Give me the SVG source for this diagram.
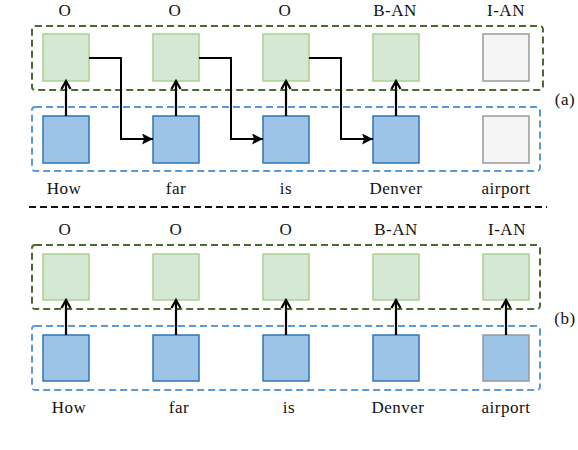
<svg xmlns="http://www.w3.org/2000/svg" width="578" height="450" viewBox="0 0 578 450">
<defs>
<marker id="fill" viewBox="0 0 10 10" refX="10" refY="5" markerWidth="11" markerHeight="11" markerUnits="userSpaceOnUse" orient="auto">
<path d="M0,0 L10,5 L0,10 L2,5 Z" fill="#000"/>
</marker>
<marker id="open" viewBox="0 0 12 12" refX="10" refY="6" markerWidth="12" markerHeight="12" markerUnits="userSpaceOnUse" orient="auto">
<path d="M2,1.5 L10,6 L2,10.5" fill="none" stroke="#000" stroke-width="2.2"/>
</marker>
</defs>
<style>
text{font-family:"Liberation Serif","Times New Roman",serif;font-size:17px;letter-spacing:0.5px;fill:#111;text-anchor:middle}
.g{fill:#d5e8d4;stroke:#a9d18e;stroke-width:1.5}
.b{fill:#9dc3e6;stroke:#2e75b6;stroke-width:1.5}
.w{fill:#f5f5f5;stroke:#999;stroke-width:1.5}
.bw{fill:#9dc3e6;stroke:#999;stroke-width:1.5}
.gd{fill:none;stroke:#4b6a2f;stroke-width:2;stroke-dasharray:7,4}
.bd{fill:none;stroke:#5b9bd5;stroke-width:2;stroke-dasharray:7,4}
.sep{fill:none;stroke:#111;stroke-width:2;stroke-dasharray:7,4}
.up{fill:none;stroke:#000;stroke-width:2.2;marker-end:url(#open)}
.rt{fill:none;stroke:#000;stroke-width:2;marker-end:url(#fill)}
</style>
<g id="frames">
<rect class="gd" x="32" y="26" width="511" height="64" rx="3"/>
<rect class="bd" x="32" y="107" width="508" height="64" rx="3"/>
<line class="sep" x1="29" y1="207" x2="547" y2="207"/>
<rect class="gd" x="32" y="245" width="508" height="64" rx="3"/>
<rect class="bd" x="32" y="326" width="508" height="64" rx="3"/>
</g>
<g id="panel-a">
<g id="a-out-1"><rect class="g" x="43" y="34" width="46" height="47"/><text x="65" y="16">O</text></g>
<g id="a-out-2"><rect class="g" x="153" y="34" width="46" height="47"/><text x="175" y="16">O</text></g>
<g id="a-out-3"><rect class="g" x="263" y="34" width="46" height="47"/><text x="285" y="16">O</text></g>
<g id="a-out-4"><rect class="g" x="373" y="34" width="46" height="47"/><text x="395" y="16">B-AN</text></g>
<g id="a-out-5"><rect class="w" x="483" y="34" width="46" height="47"/><text x="506" y="16">I-AN</text></g>
<g id="a-in-1"><rect class="b" x="43" y="116" width="46" height="47"/><text x="64" y="194">How</text></g>
<g id="a-in-2"><rect class="b" x="153" y="116" width="46" height="47"/><text x="176" y="194">far</text></g>
<g id="a-in-3"><rect class="b" x="263" y="116" width="46" height="47"/><text x="286" y="194">is</text></g>
<g id="a-in-4"><rect class="b" x="373" y="116" width="46" height="47"/><text x="396" y="194">Denver</text></g>
<g id="a-in-5"><rect class="w" x="483" y="116" width="46" height="47"/><text x="506" y="194">airport</text></g>
<text x="565" y="105">(a)</text>
</g>
<g id="panel-b">
<g id="b-out-1"><rect class="g" x="43" y="254" width="46" height="46"/><text x="65" y="235">O</text></g>
<g id="b-out-2"><rect class="g" x="153" y="254" width="46" height="46"/><text x="176" y="235">O</text></g>
<g id="b-out-3"><rect class="g" x="263" y="254" width="46" height="46"/><text x="286" y="235">O</text></g>
<g id="b-out-4"><rect class="g" x="373" y="254" width="46" height="46"/><text x="396" y="235">B-AN</text></g>
<g id="b-out-5"><rect class="g" x="483" y="254" width="46" height="46"/><text x="507" y="235">I-AN</text></g>
<g id="b-in-1"><rect class="b" x="43" y="335" width="46" height="46"/><text x="69" y="413">How</text></g>
<g id="b-in-2"><rect class="b" x="153" y="335" width="46" height="46"/><text x="179" y="413">far</text></g>
<g id="b-in-3"><rect class="b" x="263" y="335" width="46" height="46"/><text x="289" y="413">is</text></g>
<g id="b-in-4"><rect class="b" x="373" y="335" width="46" height="46"/><text x="398" y="413">Denver</text></g>
<g id="b-in-5"><rect class="bw" x="483" y="335" width="46" height="46"/><text x="506" y="413">airport</text></g>
<text x="565" y="324">(b)</text>
</g>
<g id="connectors">
<line class="up" x1="66" y1="116" x2="66" y2="81"/>
<line class="up" x1="176" y1="116" x2="176" y2="81"/>
<line class="up" x1="286" y1="116" x2="286" y2="81"/>
<line class="up" x1="396" y1="116" x2="396" y2="81"/>
<polyline class="rt" points="89,58 121,58 121,139 153,139"/>
<polyline class="rt" points="199,58 231,58 231,139 263,139"/>
<polyline class="rt" points="309,58 341,58 341,139 373,139"/>
<line class="up" x1="66" y1="335" x2="66" y2="300"/>
<line class="up" x1="176" y1="335" x2="176" y2="300"/>
<line class="up" x1="286" y1="335" x2="286" y2="300"/>
<line class="up" x1="396" y1="335" x2="396" y2="300"/>
<line class="up" x1="506" y1="335" x2="506" y2="300"/>
</g>
</svg>
